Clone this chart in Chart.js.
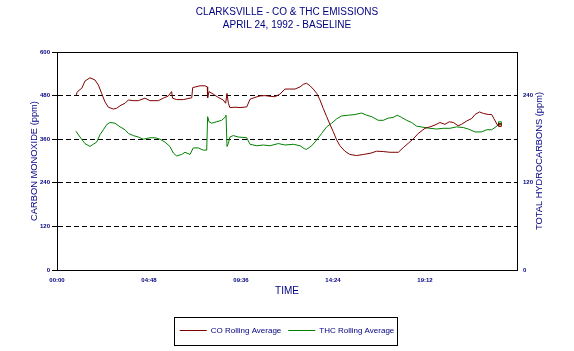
<!DOCTYPE html>
<html lang="en">
<head>
    <meta charset="UTF-8">
    <title>Clarksville - CO &amp; THC Emissions</title>
    <script src="https://cdn.jsdelivr.net/npm/chart.js"></script>
    <style>
        body { margin: 0; background: #fff; }
    </style>
</head>
<body>
    <canvas id="emissionsChart" width="574" height="351"></canvas>

    <script>
        // CO rolling average: time (hours) / ppm, left axis
        const coHours = [0.99, 1.05, 1.11, 1.29, 1.46, 1.72, 1.98, 2.16, 2.33, 2.50, 2.68, 2.94, 3.11, 3.29, 3.55, 3.72, 3.98, 4.24, 4.59, 4.85,
            5.29, 5.55, 5.81, 5.98, 6.03, 6.24, 6.59, 6.94, 7.03, 7.08, 7.46, 7.72, 7.84, 7.86, 7.93, 8.15, 8.41, 8.67, 8.80, 8.87,
            8.94, 9.02, 9.29, 9.55, 9.90, 10.07, 10.33, 10.59, 10.85, 11.11, 11.37, 11.63, 11.89, 12.15, 12.42, 12.68, 12.85, 13.02, 13.20, 13.37,
            13.55, 13.72, 13.89, 14.07, 14.24, 14.41, 14.59, 14.76, 15.02, 15.28, 15.63, 15.98, 16.33, 16.68, 17.02, 17.37, 17.81, 18.07, 18.33, 18.59,
            18.85, 19.20, 19.46, 19.72, 19.98, 20.24, 20.47, 20.68, 20.93, 21.11, 21.37, 21.64, 21.81, 22.04, 22.24, 22.50, 22.68, 22.80, 22.98, 23.11];
        const coPpm = [480, 489, 493, 500, 520, 529, 523, 509, 486, 463, 448, 443, 445, 452, 459, 468, 466, 466, 473, 466,
            466, 473, 479, 491, 473, 469, 469, 473, 474, 502, 507, 507, 504, 474, 491, 484, 475, 468, 459, 486,
            459, 447, 448, 447, 449, 470, 475, 479, 480, 478, 477, 484, 498, 498, 498, 504, 511, 514, 507, 498,
            486, 468, 445, 422, 401, 381, 358, 342, 327, 318, 315, 318, 321, 327, 326, 324, 324, 337, 349, 361,
            376, 390, 394, 399, 406, 401, 408, 406, 397, 401, 410, 417, 428, 435, 431, 428, 428, 416, 399, 399];

        // THC rolling average: time (hours) / ppm, right axis
        const thcHours = [0.99, 1.20, 1.46, 1.72, 1.89, 2.07, 2.24, 2.42, 2.59, 2.76, 3.03, 3.29, 3.55, 3.72, 3.98, 4.24, 4.50, 4.85, 5.11, 5.37,
            5.63, 5.89, 6.07, 6.24, 6.50, 6.68, 6.94, 7.11, 7.37, 7.63, 7.81, 7.86, 7.93, 8.07, 8.33, 8.59, 8.76, 8.82, 8.87, 8.94,
            9.02, 9.20, 9.46, 9.90, 10.07, 10.42, 10.76, 11.11, 11.55, 11.89, 12.33, 12.68, 12.90, 13.02, 13.29, 13.55, 13.81, 14.07, 14.33, 14.59,
            14.85, 15.20, 15.55, 15.89, 16.16, 16.42, 16.76, 17.02, 17.28, 17.54, 17.75, 17.98, 18.24, 18.50, 18.76, 19.20, 19.46, 19.81, 20.15, 20.50,
            20.85, 21.20, 21.46, 21.81, 22.15, 22.42, 22.68, 22.90, 23.11];
        const thcPpm = [191, 183, 174, 170, 173, 176, 186, 193, 200, 203, 202, 197, 193, 188, 185, 183, 180, 182, 182, 180,
            176, 170, 161, 157, 159, 162, 159, 168, 168, 165, 165, 211, 204, 202, 204, 206, 210, 213, 170, 174,
            183, 185, 183, 182, 173, 171, 172, 171, 174, 172, 173, 171, 167, 166, 171, 179, 188, 197, 202, 208,
            212, 213, 214, 216, 213, 211, 206, 206, 209, 210, 213, 210, 206, 203, 198, 196, 195, 194, 195, 195,
            197, 196, 194, 190, 190, 193, 193, 197, 202];

        const timeTicks = [0, 4.8, 9.6, 14.4, 19.2];
        const timeLabels = ['00:00', '04:48', '09:36', '14:24', '19:12'];
        const coTicks = [0, 120, 240, 360, 480, 600];
        const thcTicks = [0, 120, 240];

        const navy = '#000080';
        const family = '"Liberation Sans", Arial, sans-serif';
        const tickFont = { family: family, size: 6, weight: 'bold' };

        // top edge of the plot frame, right axis title (reads upwards) and legend box
        const framePlugin = {
            id: 'frame',
            afterDraw(chart) {
                const { ctx, chartArea } = chart;
                ctx.save();
                ctx.strokeStyle = '#000';
                ctx.lineWidth = 1;
                ctx.beginPath();
                ctx.moveTo(chartArea.left, Math.round(chartArea.top) + 0.5);
                ctx.lineTo(chartArea.right + 1, Math.round(chartArea.top) + 0.5);
                ctx.stroke();

                ctx.save();
                ctx.translate(539, (chartArea.top + chartArea.bottom) / 2);
                ctx.rotate(-Math.PI / 2);
                ctx.fillStyle = navy;
                ctx.font = '9.3px ' + family;
                ctx.textAlign = 'center';
                ctx.textBaseline = 'middle';
                ctx.fillText('TOTAL HYDROCARBONS (ppm)', 0, 0);
                ctx.restore();

                const boxes = chart.legend.legendHitBoxes;
                if (boxes && boxes.length) {
                    const left = Math.min(...boxes.map(b => b.left)) - 6;
                    const right = Math.max(...boxes.map(b => b.left + b.width)) + 2;
                    const mid = boxes[0].top + boxes[0].height / 2;
                    ctx.strokeRect(Math.round(left) + 0.5, Math.round(mid - 14) + 0.5,
                        Math.round(right - left), 28);
                }
                ctx.restore();
            }
        };

        const lastPoint = (arr) => (c) => c.dataIndex === arr.length - 1 ? 2 : 0;

        new Chart(document.getElementById('emissionsChart'), {
            type: 'line',
            data: {
                datasets: [{
                    label: 'CO Rolling Average',
                    data: coHours.map((h, i) => ({ x: h, y: coPpm[i] })),
                    yAxisID: 'y',
                    borderColor: '#800000',
                    backgroundColor: 'rgba(0,0,0,0)',
                    borderWidth: 1,
                    pointStyle: 'rect',
                    pointRadius: lastPoint(coHours),
                    pointBorderColor: '#800000',
                    tension: 0
                }, {
                    label: 'THC Rolling Average',
                    data: thcHours.map((h, i) => ({ x: h, y: thcPpm[i] })),
                    yAxisID: 'y2',
                    borderColor: '#008000',
                    backgroundColor: 'rgba(0,0,0,0)',
                    borderWidth: 1,
                    pointStyle: 'rect',
                    pointRadius: lastPoint(thcHours),
                    pointBorderColor: '#008000',
                    tension: 0
                }]
            },
            options: {
                responsive: false,
                animation: false,
                layout: { padding: { left: 0, right: 0, top: 0, bottom: 6.5 } },
                scales: {
                    x: {
                        type: 'linear',
                        min: 0,
                        max: 24,
                        afterBuildTicks: (s) => { s.ticks = timeTicks.map(v => ({ value: v })); },
                        afterFit: (s) => { s.height = 49.5; },
                        grid: { display: false, drawTicks: false },
                        border: { display: true, color: '#000', width: 1 },
                        ticks: {
                            padding: 7,
                            maxRotation: 0,
                            autoSkip: false,
                            color: navy,
                            font: tickFont,
                            callback: (v) => timeLabels[timeTicks.indexOf(v)]
                        },
                        title: {
                            display: true,
                            text: 'TIME',
                            color: navy,
                            font: { family: family, size: 10 },
                            padding: { top: 0, bottom: 22.5 }
                        }
                    },
                    y: {
                        position: 'left',
                        min: 0,
                        max: 600,
                        afterBuildTicks: (s) => { s.ticks = coTicks.map(v => ({ value: v })); },
                        afterFit: (s) => { s.width = 57; },
                        grid: {
                            color: (c) => (c.tick && (c.tick.value === 0 || c.tick.value === 600)) ? 'rgba(0,0,0,0)' : '#000',
                            tickColor: '#000',
                            tickLength: 5,
                            tickBorderDash: [5, 3],
                            lineWidth: 1
                        },
                        border: { display: true, color: '#000', width: 1, dash: [5, 3] },
                        ticks: { padding: 2, color: navy, font: tickFont },
                        title: {
                            display: true,
                            text: 'CARBON MONOXIDE (ppm)',
                            color: navy,
                            font: { family: family, size: 9.3 },
                            padding: { top: 28.4, bottom: 0 }
                        }
                    },
                    y2: {
                        position: 'right',
                        min: 0,
                        max: 300,
                        afterBuildTicks: (s) => { s.ticks = thcTicks.map(v => ({ value: v })); },
                        afterFit: (s) => { s.width = 57; },
                        grid: { display: false, drawTicks: false },
                        border: { display: true, color: '#000', width: 1 },
                        ticks: { padding: 6, color: navy, font: tickFont },
                        title: { display: false }
                    }
                },
                plugins: {
                    title: {
                        display: true,
                        text: ['CLARKSVILLE - CO & THC EMISSIONS', 'APRIL 24, 1992 - BASELINE'],
                        color: navy,
                        font: { family: family, size: 10, weight: 'normal', lineHeight: 1.23 },
                        padding: { top: 6.55, bottom: 20.85 }
                    },
                    legend: {
                        position: 'bottom',
                        labels: {
                            usePointStyle: true,
                            pointStyle: 'line',
                            pointStyleWidth: 27,
                            padding: 7,
                            color: navy,
                            font: { family: family, size: 8 }
                        }
                    },
                    tooltip: { enabled: false }
                }
            },
            plugins: [framePlugin]
        });
    </script>
</body>
</html>
